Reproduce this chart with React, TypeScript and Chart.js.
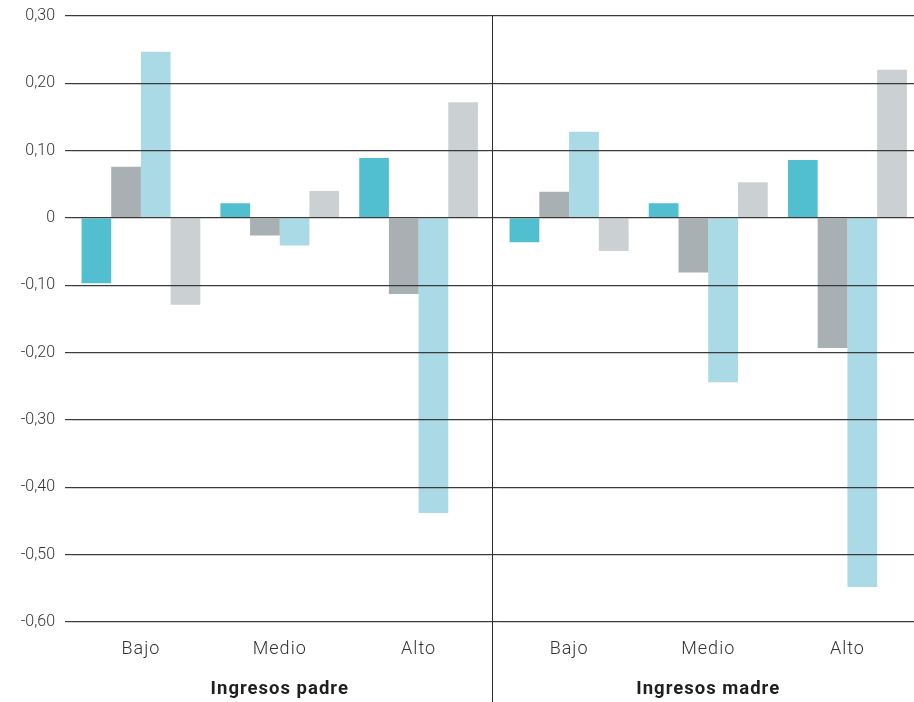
import React, { useEffect, useRef } from "react";
import { Chart, registerables } from "chart.js";

Chart.register(...registerables);

// ---- data ----
const categories = ["Bajo", "Medio", "Alto"];
const groupTitles = ["Ingresos padre", "Ingresos madre"];
const seriesNames = ["Serie 1", "Serie 2", "Serie 3", "Serie 4"];

const padreSerie1 = [-0.097, 0.022, 0.089];
const padreSerie2 = [0.076, -0.026, -0.113];
const padreSerie3 = [0.247, -0.041, -0.438];
const padreSerie4 = [-0.129, 0.04, 0.172];

const madreSerie1 = [-0.036, 0.022, 0.086];
const madreSerie2 = [0.039, -0.081, -0.193];
const madreSerie3 = [0.128, -0.244, -0.548];
const madreSerie4 = [-0.049, 0.053, 0.22];

const yMin = -0.6;
const yMax = 0.3;
const yStep = 0.1;

const seriesColors = ["#52BFD0", "#A8B0B3", "#AADAE5", "#CBD0D3"];

const FONT = "Roboto, 'Noto Sans', sans-serif";
const GRID = "#3a3a3a";

function fmt(v: number): string {
  if (Math.abs(v) < 1e-9) return "0";
  return v.toFixed(2).replace(".", ",");
}

const dividerPlugin = {
  id: "divider",
  beforeDraw(chart: any) {
    (chart.ctx as any).letterSpacing = "1px";
  },
  beforeDatasetsDraw(chart: any) {
    (chart.ctx as any).letterSpacing = "0px";
  },
  afterDraw(chart: any, _args: any, opts: any) {
    if (!opts || !opts.show) return;
    const ctx = chart.ctx;
    ctx.save();
    ctx.strokeStyle = "#2b2b2b";
    ctx.lineWidth = 1;
    ctx.beginPath();
    ctx.moveTo(opts.x, chart.chartArea.top);
    ctx.lineTo(opts.x, chart.height);
    ctx.stroke();
    ctx.restore();
  },
};

function buildConfig(series: number[][], title: string, left: boolean): any {
  return {
    type: "bar",
    data: {
      labels: categories,
      datasets: series.map((vals, i) => ({
        label: seriesNames[i],
        data: vals,
        backgroundColor: seriesColors[i],
        borderWidth: 0,
        categoryPercentage: 0.855,
        barPercentage: 1,
      })),
    },
    plugins: [dividerPlugin],
    options: {
      responsive: false,
      animation: false,
      layout: { padding: { top: 16, left: 0, right: 0, bottom: 0 } },
      plugins: {
        legend: { display: false },
        tooltip: { enabled: false },
        divider: { show: !left, x: 4.5 },
      },
      scales: {
        x: {
          grid: { display: false, drawTicks: false },
          border: { display: false },
          ticks: {
            padding: 17,
            color: "#333",
            font: { family: FONT, size: 18, weight: "300" },
          },
          title: {
            display: true,
            text: title,
            color: "#1e1e1e",
            font: { family: FONT, size: 18.5, weight: "bold" },
            padding: { top: 0, bottom: 1.5 },
          },
          afterFit: (s: any) => {
            s.height = 80;
          },
        },
        y: {
          min: yMin,
          max: yMax,
          z: 1,
          grid: {
            color: GRID,
            lineWidth: 1.2,
            drawTicks: true,
            tickLength: left ? 6.5 : 11.5,
            z: 1,
          },
          border: { display: false },
          ticks: {
            display: true,
            z: 1,
            stepSize: yStep,
            padding: 10,
            color: left ? "#333" : "rgba(0,0,0,0)",
            font: { family: FONT, size: 16, weight: "300" },
            callback: (v: any) => fmt(Number(v)),
          },
          afterFit: (s: any) => {
            s.width = left ? 71.5 : 11.5;
            s.paddingTop = 0;
            s.paddingBottom = 0;
          },
        },
      },
    },
  };
}

export default function App() {
  const leftRef = useRef<HTMLCanvasElement>(null);
  const rightRef = useRef<HTMLCanvasElement>(null);

  useEffect(() => {
    const l = new Chart(
      leftRef.current as HTMLCanvasElement,
      buildConfig([padreSerie1, padreSerie2, padreSerie3, padreSerie4], groupTitles[0], true)
    );
    const r = new Chart(
      rightRef.current as HTMLCanvasElement,
      buildConfig([madreSerie1, madreSerie2, madreSerie3, madreSerie4], groupTitles[1], false)
    );
    return () => {
      l.destroy();
      r.destroy();
    };
  }, []);

  return (
    <div
      style={{
        position: "fixed",
        left: 0,
        top: 0,
        width: 914,
        height: 702,
        overflow: "hidden",
        background: "#fff",
      }}
    >
      <canvas
        ref={leftRef}
        width={488}
        height={702}
        style={{ position: "absolute", left: 0, top: 0 }}
      />
      <canvas
        ref={rightRef}
        width={429}
        height={702}
        style={{ position: "absolute", left: 488, top: 0 }}
      />
    </div>
  );
}
